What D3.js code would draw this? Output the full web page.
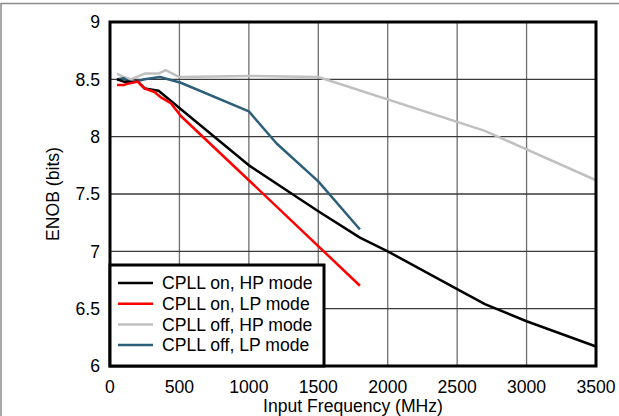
<!DOCTYPE html>
<html>
<head>
<meta charset="utf-8">
<script src="https://cdn.jsdelivr.net/npm/d3@7"></script>
<style>
  body { margin: 0; background: #fff; }
  svg { display: block; font-family: "Liberation Sans", Arial, sans-serif; }
</style>
</head>
<body>
<div id="chart"></div>
<script>
// values: [MHz, ENOB]
var cpllOnHp = [[50, 8.50], [100, 8.48], [200, 8.48], [250, 8.42], [350, 8.40], [500, 8.25],
  [1000, 7.75], [1500, 7.35], [1800, 7.12], [2000, 7.0], [2500, 6.67], [2700, 6.54],
  [3000, 6.39], [3500, 6.17]];
var cpllOnLp = [[50, 8.45], [100, 8.45], [120, 8.46], [200, 8.48], [250, 8.42], [320, 8.39],
  [370, 8.34], [440, 8.29], [510, 8.18], [1000, 7.62], [1800, 6.70]];
var cpllOffHp = [[50, 8.55], [100, 8.52], [150, 8.50], [250, 8.55], [350, 8.55], [400, 8.58],
  [500, 8.52], [1000, 8.53], [1500, 8.52], [2700, 8.05], [3500, 7.62]];
var cpllOffLp = [[50, 8.50], [100, 8.51], [150, 8.47], [250, 8.50], [360, 8.52], [510, 8.47],
  [1000, 8.22], [1200, 7.94], [1500, 7.61], [1800, 7.19]];

var seriesNames = ["CPLL on, HP mode", "CPLL on, LP mode", "CPLL off, HP mode", "CPLL off, LP mode"];
var seriesColors = ["#000000", "#ff0000", "#c0c0c0", "#2d5f7a"];
var xTicks = [0, 500, 1000, 1500, 2000, 2500, 3000, 3500];
var yTicks = [6, 6.5, 7, 7.5, 8, 8.5, 9];

var width = 619, height = 416;
var mLeft = 110, mTop = 22, mRight = 596, mBottom = 366;
var fontSize = 17.6;

var svg = d3.select('#chart').append('svg')
  .attr('width', width)
  .attr('height', height);

// outer frame of the figure
svg.append('rect')
  .attr('x', 1).attr('y', 3.5)
  .attr('width', 800).attr('height', 800)
  .attr('fill', 'none')
  .attr('stroke', '#8a8a8a')
  .attr('stroke-width', 1.5);

var x = d3.scaleLinear().domain([0, 3500]).range([mLeft, mRight]);
var y = d3.scaleLinear().domain([6, 9]).range([mBottom, mTop]);

// grid
svg.append('g').selectAll('line').data(xTicks.slice(1, -1)).enter()
  .append('line')
  .attr('x1', (d) => x(d)).attr('x2', (d) => x(d))
  .attr('y1', mTop).attr('y2', mBottom)
  .attr('stroke', '#6e6e6e').attr('stroke-width', 1.3);
svg.append('g').selectAll('line').data(yTicks.slice(1, -1)).enter()
  .append('line')
  .attr('x1', mLeft).attr('x2', mRight)
  .attr('y1', (d) => y(d)).attr('y2', (d) => y(d))
  .attr('stroke', '#3a3a3a').attr('stroke-width', 1.3);

// tick labels
svg.append('g').selectAll('text').data(yTicks).enter()
  .append('text')
  .attr('x', mLeft - 10)
  .attr('y', (d) => y(d))
  .attr('dy', '0.36em')
  .attr('text-anchor', 'end')
  .attr('font-size', fontSize)
  .text((d) => d3.format('')(d));
svg.append('g').selectAll('text').data(xTicks).enter()
  .append('text')
  .attr('x', (d) => x(d))
  .attr('y', 393)
  .attr('text-anchor', 'middle')
  .attr('font-size', fontSize)
  .text((d) => d);

svg.append('text')
  .attr('x', (mLeft + mRight) / 2)
  .attr('y', 412)
  .attr('text-anchor', 'middle')
  .attr('font-size', fontSize)
  .text('Input Frequency (MHz)');
svg.append('text')
  .attr('transform', 'translate(59,' + ((mTop + mBottom) / 2) + ') rotate(-90)')
  .attr('text-anchor', 'middle')
  .attr('font-size', fontSize)
  .text('ENOB (bits)');

// curves
var line = d3.line().x((d) => x(d[0])).y((d) => y(d[1]));
var allSeries = [cpllOnHp, cpllOnLp, cpllOffHp, cpllOffLp];
var drawOrder = [2, 3, 0, 1];
svg.append('g').selectAll('path').data(drawOrder).enter()
  .append('path')
  .attr('d', (i) => line(allSeries[i]))
  .attr('fill', 'none')
  .attr('stroke', (i) => seriesColors[i])
  .attr('stroke-width', 2.5)
  .attr('stroke-linejoin', 'round');

// plot border
svg.append('rect')
  .attr('x', mLeft).attr('y', mTop)
  .attr('width', mRight - mLeft).attr('height', mBottom - mTop)
  .attr('fill', 'none')
  .attr('stroke', '#000')
  .attr('stroke-width', 3);

// legend
var legend = svg.append('g');
legend.append('rect')
  .attr('x', mLeft).attr('y', 265)
  .attr('width', 214).attr('height', mBottom - 265)
  .attr('fill', '#fff')
  .attr('stroke', '#000')
  .attr('stroke-width', 3);
var rows = legend.selectAll('.row').data(seriesNames).enter()
  .append('g')
  .attr('transform', (d, i) => 'translate(0,' + (283 + i * 20.7) + ')');
rows.append('line')
  .attr('x1', 118).attr('x2', 153)
  .attr('stroke', (d, i) => seriesColors[i])
  .attr('stroke-width', 2.5);
rows.append('text')
  .attr('x', 162)
  .attr('dy', '0.36em')
  .attr('font-size', fontSize)
  .text((d) => d);
</script>
</body>
</html>
